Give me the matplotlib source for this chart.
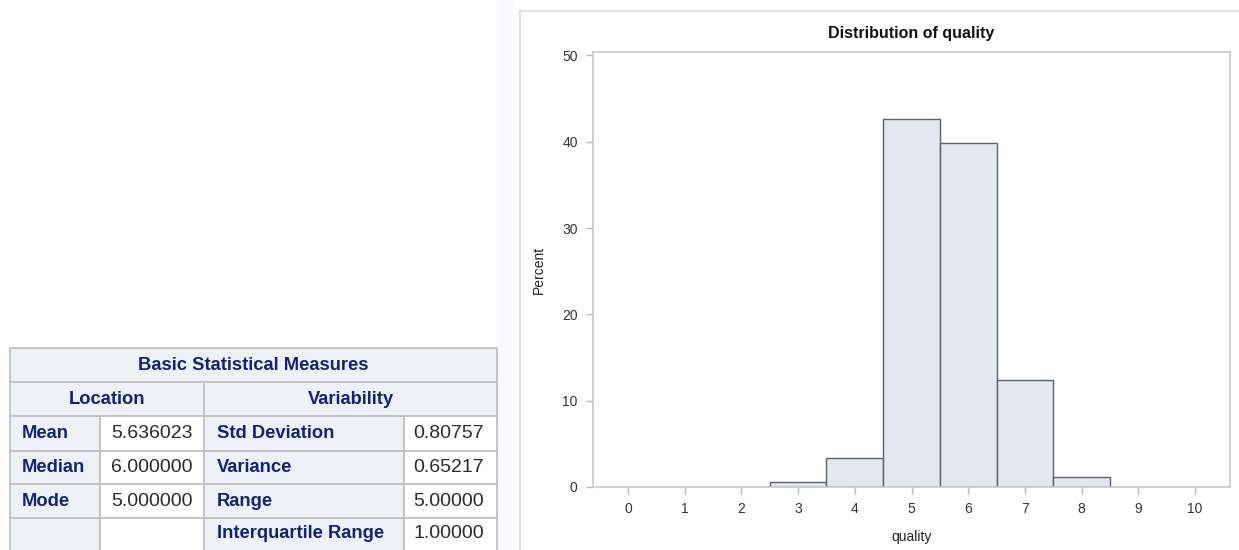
import numpy as np
import matplotlib
matplotlib.use("Agg")
import matplotlib.pyplot as plt
from matplotlib.patches import Rectangle

plt.rcParams['font.family'] = ['Liberation Sans Narrow', 'Liberation Sans', 'DejaVu Sans']

# histogram data (percent of wines per quality score)
quality = [0, 1, 2, 3, 4, 5, 6, 7, 8, 9, 10]
percent = [0, 0, 0, 0.63, 3.31, 42.59, 39.90, 12.45, 1.13, 0, 0]

# table data
table_title = "Basic Statistical Measures"
group_names = ["Location", "Variability"]
loc_labels = ["Mean", "Median", "Mode", ""]
loc_values = ["5.636023", "6.000000", "5.000000", ""]
var_labels = ["Std Deviation", "Variance", "Range", "Interquartile Range"]
var_values = ["0.80757", "0.65217", "5.00000", "1.00000"]

W, H = 1239, 550
fig = plt.figure(figsize=(W / 100, H / 100), dpi=100)

# background layer in pixel coords (for the table and chart frame)
bg = fig.add_axes([0, 0, 1, 1])
bg.set_xlim(0, W)
bg.set_ylim(H, 0)
bg.axis("off")

# faint strip and chart frame
bg.add_patch(Rectangle((500, 0), 13, H, facecolor="#f9fafd", edgecolor="none"))
bg.add_patch(Rectangle((520, 11), 740, 600, facecolor="white", edgecolor="#d9d9d9", lw=1.2))

# ---- table ----
hdr_bg = "#edf2f9"
border = "#c1c1c1"
blue = "#112277"
col_x = [10, 100, 204, 404, 497]
row_y = [348, 382, 416, 451, 484, 518, 560]
tfont = 13.2
tfam = ['Liberation Sans']

def cell(x0, x1, y0, y1, fc):
    bg.add_patch(Rectangle((x0, y0), x1 - x0, y1 - y0, facecolor=fc, edgecolor=border, lw=1.3))

cell(col_x[0], col_x[4], row_y[0], row_y[1], hdr_bg)
bg.text((col_x[0] + col_x[4]) / 2, (row_y[0] + row_y[1]) / 2 + 1, table_title,
        ha="center", va="center", color=blue, fontsize=tfont, fontweight="bold", family=tfam)
cell(col_x[0], col_x[2], row_y[1], row_y[2], hdr_bg)
cell(col_x[2], col_x[4], row_y[1], row_y[2], hdr_bg)
bg.text((col_x[0] + col_x[2]) / 2, (row_y[1] + row_y[2]) / 2, group_names[0],
        ha="center", va="center", color=blue, fontsize=tfont, fontweight="bold", family=tfam)
bg.text((col_x[2] + col_x[4]) / 2, (row_y[1] + row_y[2]) / 2, group_names[1],
        ha="center", va="center", color=blue, fontsize=tfont, fontweight="bold", family=tfam)

for i in range(4):
    y0, y1 = row_y[i + 2], row_y[i + 3]
    yc = (y0 + y1) / 2
    if i == 3:
        yc = 534
    cell(col_x[0], col_x[1], y0, y1, hdr_bg)
    cell(col_x[1], col_x[2], y0, y1, "white")
    cell(col_x[2], col_x[3], y0, y1, hdr_bg)
    cell(col_x[3], col_x[4], y0, y1, "white")
    bg.text(col_x[0] + 12, yc, loc_labels[i], ha="left", va="center", color=blue,
            fontsize=tfont, fontweight="bold", family=tfam)
    bg.text(col_x[2] - 11, yc, loc_values[i], ha="right", va="center", color="#2a2a2a",
            fontsize=14, family=tfam)
    bg.text(col_x[2] + 13, yc, var_labels[i], ha="left", va="center", color=blue,
            fontsize=tfont, fontweight="bold", family=tfam)
    bg.text(col_x[4] - 13, yc, var_values[i], ha="right", va="center", color="#2a2a2a",
            fontsize=14, family=tfam)

# ---- histogram ----
left, right, top, bottom = 593, 1230, 52, 487
ax = fig.add_axes([left / W, 1 - bottom / H, (right - left) / W, (bottom - top) / H])
ax.bar(quality, percent, width=1, color="#e3e7f0", edgecolor="#5d6168", linewidth=1.0)
ax.set_xlim(-0.62, 10.62)
ax.set_ylim(0, 50.4)
ax.set_xticks(quality)
ax.set_yticks([0, 10, 20, 30, 40, 50])
for s in ax.spines.values():
    s.set_color("#c8c8c8")
    s.set_linewidth(1.2)
ax.tick_params(direction="out", length=5, width=1, color="#b8b8b8",
               labelcolor="#333333", labelsize=10, pad=6)
ax.set_title("Distribution of quality", fontsize=11.5, fontweight="bold", pad=10, color="#111111")
ax.set_xlabel("quality", fontsize=10, color="#222222", labelpad=10)
ax.set_ylabel("Percent", fontsize=10, color="#222222", labelpad=12)

fig.savefig("out.png", dpi=100)
